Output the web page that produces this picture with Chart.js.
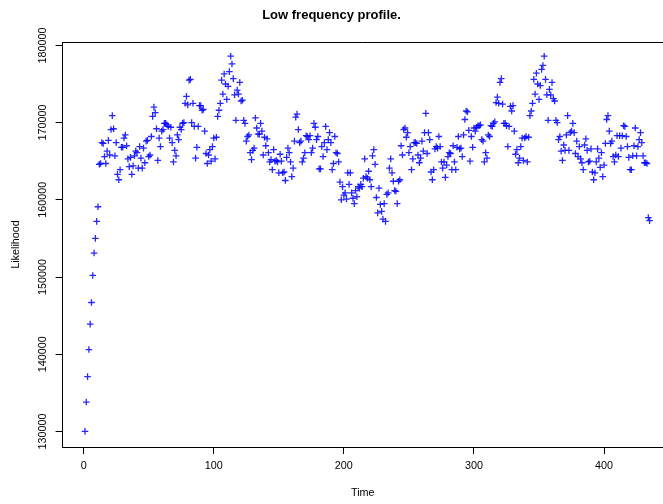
<!DOCTYPE html>
<html>
<head>
<meta charset="utf-8">
<script src="https://cdn.jsdelivr.net/npm/chart.js@4/dist/chart.umd.min.js"></script>
<style>
  html, body { margin: 0; padding: 0; background: #fff; }
</style>
</head>
<body>
<canvas id="chartProfile" width="663" height="504"></canvas>
<script>
/** Likelihood trace, one value per time step (t = 1 .. 435) */
const likelihood = [
  130000, 133800, 137100, 140600, 143900, 146700, 150200, 153100, 155000, 157200,
  159100, 164600, 164700, 167400, 167300, 165600, 164700, 166300, 167700, 165800,
  169100, 170900, 169200, 165700, 167400, 163300, 162600, 163900, 166800, 166800,
  168000, 168400, 167000, 165300, 164300, 165500, 163300, 164400, 165700, 166300,
  166100, 164100, 166900, 165400, 164100, 166700, 164800, 167600, 167700, 165600,
  165800, 168200, 170800, 172000, 171300, 169200, 165100, 168000, 166900, 168900,
  169100, 169900, 169900, 169700, 169500, 168000, 169400, 167400, 164900, 166400,
  165700, 168400, 167800, 169400, 169100, 169900, 170000, 172500, 173400, 172300,
  175500, 175600, 170000, 172500, 169500, 165400, 166800, 169500, 172200, 172200,
  171600, 171700, 168900, 166000, 164700, 165800, 166500, 165000, 166900, 168000,
  165300, 168100, 170800, 171600, 172500, 175500, 173700, 176300, 175000, 173000,
  174700, 176600, 178600, 177600, 175700, 173600, 170300, 174200, 173700, 175200,
  172800, 172900, 170300, 169900, 167600, 168200, 168400, 166100, 165200, 166400,
  166700, 170600, 169300, 168500, 168500, 169900, 168900, 165800, 168100, 167000,
  167900, 166100, 164900, 165200, 163900, 166500, 165000, 165100, 164900, 163500,
  165900, 165000, 163500, 163600, 162500, 165500, 166700, 166100, 164900, 163000,
  164100, 167600, 170700, 171100, 169100, 167400, 167600, 164900, 165400, 166100,
  168300, 168200, 167800, 168300, 166100, 166700, 169900, 169400, 167800, 168200,
  164000, 164000, 166900, 165600, 167400, 169500, 166500, 167800, 168700, 167400,
  163900, 164700, 168200, 166100, 166000, 164900, 162300, 160000, 161700, 160600,
  160900, 160100, 163500, 162000, 163500, 160900, 160200, 159500, 161200, 160400,
  161700, 161500, 162000, 161700, 162800, 165300, 163000, 162800, 163700, 162600,
  161700, 165700, 166500, 164600, 160300, 158300, 161500, 159400, 158500, 157500,
  159500, 157200, 160700, 160900, 164100, 165300, 163500, 162400, 161200, 161100,
  159500, 162400, 162600, 167000, 165800, 169100, 169300, 168100, 168700, 166100,
  166900, 163900, 165300, 167400, 167400, 167300, 165800, 164800, 165400, 167600,
  166300, 168700, 171200, 166000, 168700, 167800, 163600, 162600, 163900, 166600,
  166900, 166700, 168200, 166900, 164900, 164100, 164900, 162900, 164500, 165600,
  166100, 166000, 163900, 167000, 164900, 163900, 166800, 168200, 166600, 166700,
  165600, 168400, 170400, 171500, 171400, 169000, 165000, 168200, 166800, 169300,
  168900, 169400, 169600, 169600, 169700, 167800, 167600, 164900, 166100, 165400,
  168400, 168200, 169600, 169500, 169900, 170100, 172600, 173300, 172500, 175200,
  175700, 172400, 169900, 169900, 169600, 166900, 169500, 172100, 171500, 172200,
  168900, 165900, 166500, 164800, 165400, 166900, 168000, 165100, 168000, 168200,
  164900, 168100, 170900, 171500, 172500, 175600, 173700, 176400, 175000, 173000,
  174800, 176900, 177400, 178600, 175600, 173600, 170300, 174300, 173600, 175200,
  173100, 172800, 170300, 170000, 167800, 168200, 166300, 165100, 167100, 166400,
  168400, 170900, 166400, 168700, 168900, 169900, 168700, 166000, 167600, 165600,
  166900, 165300, 164800, 163900, 167100, 167900, 166400, 164900, 165000, 166600,
  163600, 162600, 163500, 164900, 166600, 165400, 164200, 166100, 163000, 164500,
  167300, 170400, 170900, 168900, 167300, 167600, 165600, 164900, 165800, 168300,
  165600, 168300, 166700, 168300, 169600, 169500, 168200, 166900, 165500, 163900,
  163900, 165700, 167000, 169300, 165700, 166900, 167800, 168700, 167400, 165700,
  164800, 164800, 164700, 157700, 157300
];

const xTicks = [0, 100, 200, 300, 400];
const yTicks = [130000, 140000, 150000, 160000, 170000, 180000];
const xLimits = [-16.2, 445.3];
const yLimits = [127980, 180440];

const FONT = '"Liberation Sans", Arial, Helvetica, sans-serif';

/** R style extras: vertical y tick labels and the top line of the box */
const rAxisExtras = {
  id: 'rAxisExtras',
  afterDraw(chart) {
    const ctx = chart.ctx;
    const yScale = chart.scales.y;
    const area = chart.chartArea;
    ctx.save();
    ctx.fillStyle = '#000';
    ctx.font = '10.8px ' + FONT;
    ctx.textAlign = 'center';
    ctx.textBaseline = 'middle';
    yTicks.forEach(v => {
      ctx.save();
      ctx.translate(43, yScale.getPixelForValue(v));
      ctx.rotate(-Math.PI / 2);
      ctx.fillText(String(v), 0, 0);
      ctx.restore();
    });
    ctx.strokeStyle = '#000';
    ctx.lineWidth = 1;
    ctx.beginPath();
    ctx.moveTo(area.left, Math.round(area.top) + 0.5);
    ctx.lineTo(area.right, Math.round(area.top) + 0.5);
    ctx.stroke();
    ctx.restore();
  }
};

new Chart(document.getElementById('chartProfile'), {
  type: 'scatter',
  data: {
    datasets: [{
      label: 'Likelihood',
      data: likelihood.map((v, i) => ({ x: i + 1, y: v })),
      pointStyle: 'cross',
      pointRadius: 3.3,
      pointHoverRadius: 3.3,
      borderWidth: 1.3,
      borderColor: 'rgba(0, 0, 255, 0.85)',
      backgroundColor: 'rgba(0, 0, 255, 0.85)'
    }]
  },
  options: {
    responsive: false,
    animation: false,
    layout: { padding: 0, autoPadding: false },
    plugins: {
      legend: { display: false },
      tooltip: { enabled: false },
      title: {
        display: true,
        text: 'Low frequency profile.',
        color: '#000',
        font: { family: FONT, size: 13, weight: 'bold' },
        padding: { top: 8, bottom: 18.4 }
      }
    },
    scales: {
      x: {
        type: 'linear',
        position: 'bottom',
        min: xLimits[0],
        max: xLimits[1],
        afterBuildTicks: s => { s.ticks = xTicks.map(v => ({ value: v })); },
        afterFit: s => { s.height = 57; },
        ticks: {
          color: '#000',
          font: { family: FONT, size: 10.8 },
          padding: 6,
          maxRotation: 0,
          autoSkip: false
        },
        grid: { drawOnChartArea: false, drawTicks: true, tickLength: 7, color: '#000' },
        border: { display: true, color: '#000', width: 1 },
        title: {
          display: true,
          text: 'Time',
          color: '#000',
          font: { family: FONT, size: 10.8 },
          padding: { top: 0, bottom: 4.4 }
        }
      },
      y: {
        type: 'linear',
        position: 'left',
        min: yLimits[0],
        max: yLimits[1],
        afterBuildTicks: s => { s.ticks = yTicks.map(v => ({ value: v })); },
        afterFit: s => { s.width = 62.6; },
        ticks: { display: false },
        grid: { drawOnChartArea: false, drawTicks: true, tickLength: 7, color: '#000' },
        border: { display: true, color: '#000', width: 1 },
        title: {
          display: true,
          text: 'Likelihood',
          color: '#000',
          font: { family: FONT, size: 10.8 },
          padding: { top: 9.8, bottom: 0 }
        }
      }
    }
  },
  plugins: [rAxisExtras]
});
</script>
</body>
</html>
